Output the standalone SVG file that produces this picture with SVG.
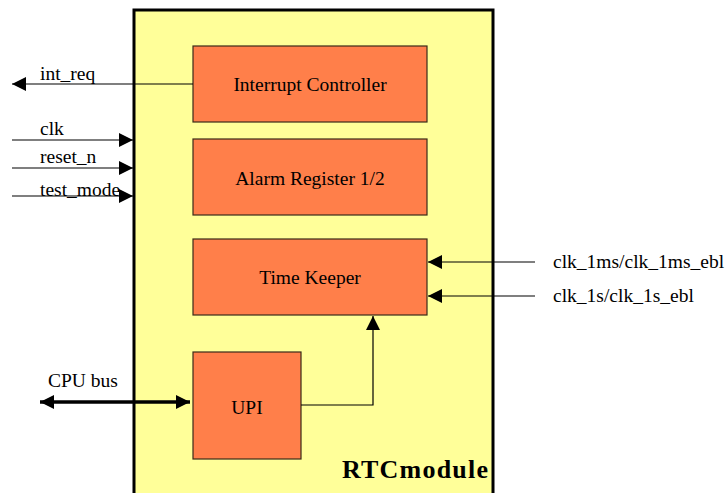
<svg xmlns="http://www.w3.org/2000/svg" width="725" height="493" viewBox="0 0 725 493">
<defs>
<style>
.blk{fill:#ff7f4a;stroke:#3a2a1a;stroke-width:1.2}
.t{font-family:"Liberation Serif","Times New Roman","DejaVu Serif",serif;font-size:19.5px;fill:#000}
.c{text-anchor:middle}
.ln{stroke:#000;stroke-width:1.2;fill:none}
</style>
<marker id="ah" viewBox="0 0 10 10" refX="10" refY="5" markerWidth="14" markerHeight="14" markerUnits="userSpaceOnUse" orient="auto"><path d="M0,0 L10,5 L0,10 z" fill="#000"/></marker>
<marker id="ahb" viewBox="0 0 10 10" refX="10" refY="5" markerWidth="14" markerHeight="14" markerUnits="userSpaceOnUse" orient="auto-start-reverse"><path d="M0,0 L10,5 L0,10 z" fill="#000"/></marker>
</defs>
<g id="rtc">
<rect x="134" y="10" width="359" height="490" fill="#ffff99" stroke="#000" stroke-width="3"/>
<text x="342" y="478" font-family="'Liberation Serif','Times New Roman','DejaVu Serif',serif" font-size="26" font-weight="bold" textLength="146">RTCmodule</text>
</g>
<g id="int_ctrl"><rect class="blk" x="193" y="46" width="234" height="76"/><text class="t c" x="310" y="91">Interrupt Controller</text></g>
<g id="alarm"><rect class="blk" x="193" y="139" width="234" height="76"/><text class="t c" x="310" y="185">Alarm Register 1/2</text></g>
<g id="timekeeper"><rect class="blk" x="193" y="239" width="234" height="76"/><text class="t c" x="310" y="284">Time Keeper</text></g>
<g id="upi"><rect class="blk" x="193" y="352" width="108" height="107"/><text class="t c" x="247" y="414">UPI</text></g>
<g id="connectors">
<line class="ln" x1="193" y1="84" x2="12" y2="84" marker-end="url(#ah)"/>
<line class="ln" x1="12" y1="140" x2="133" y2="140" marker-end="url(#ah)"/>
<line class="ln" x1="12" y1="168" x2="133" y2="168" marker-end="url(#ah)"/>
<line class="ln" x1="12" y1="196" x2="133" y2="196" marker-end="url(#ah)"/>
<line class="ln" x1="535" y1="262" x2="428" y2="262" marker-end="url(#ah)"/>
<line class="ln" x1="535" y1="296" x2="428" y2="296" marker-end="url(#ah)"/>
<polyline class="ln" points="301,405 373,405 373,316" marker-end="url(#ah)"/>
<line x1="40" y1="402" x2="190" y2="402" stroke="#000" stroke-width="3.5" marker-start="url(#ahb)" marker-end="url(#ahb)"/>
<text class="t" x="40" y="80">int_req</text>
<text class="t" x="40" y="135">clk</text>
<text class="t" x="40" y="163">reset_n</text>
<text class="t" x="40" y="196">test_mode</text>
<text class="t" x="553" y="268">clk_1ms/clk_1ms_ebl</text>
<text class="t" x="553" y="302">clk_1s/clk_1s_ebl</text>
<text class="t" x="48" y="387">CPU bus</text>
</g>
</svg>
